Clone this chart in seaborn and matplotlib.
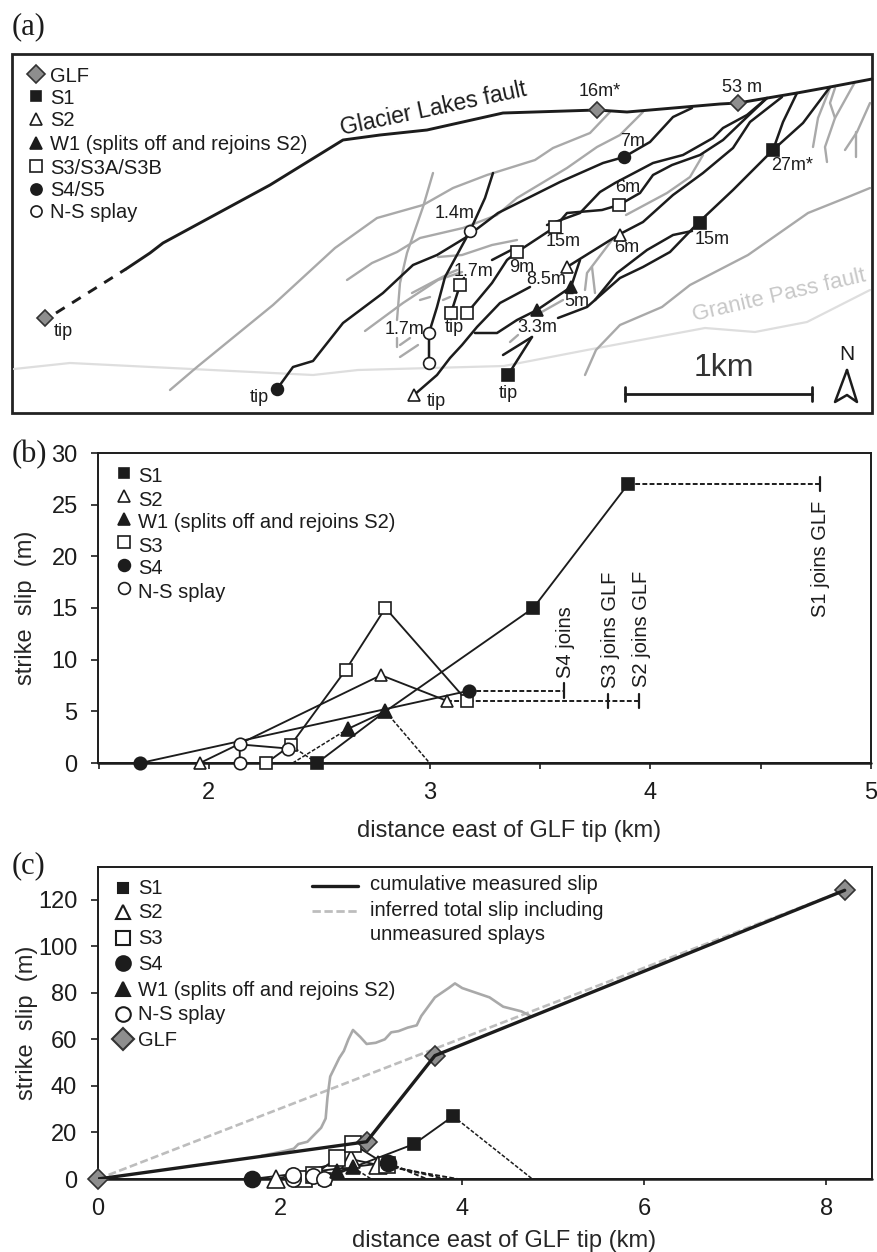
import matplotlib
matplotlib.use('Agg')
import matplotlib.pyplot as plt
import seaborn as sns

# ---------- panel (a), map traces in picture pixels ----------
glf_trace = [(126, 269), (150, 253), (163, 243), (270, 185), (343, 140), (380, 135), (427, 130), (503, 113),
             (597, 110), (627, 112), (720, 104), (738, 103), (797, 93), (830, 87), (872, 79)]
glf_dash = [(56, 313), (126, 269)]
black_faults = [
    [(277, 389), (293, 367), (313, 361), (343, 323), (383, 293), (413, 265), (437, 255), (465, 238), (498, 213),
     (520, 202), (560, 182), (603, 163), (624, 157), (650, 142), (673, 117), (692, 108)],
    [(429, 363), (429, 333), (437, 307), (445, 277), (470, 231), (485, 198), (493, 173)],
    [(414, 395), (437, 375), (450, 358), (462, 345), (477, 327), (500, 303), (530, 287)],
    [(475, 333), (497, 333), (517, 320), (537, 310), (571, 287), (580, 260)],
    [(567, 267), (620, 234), (643, 222), (673, 195), (703, 173), (733, 148), (750, 122), (782, 97)],
    [(558, 318), (587, 307), (595, 300)],
    [(595, 300), (617, 273), (647, 250), (673, 235), (692, 231)],
    [(595, 300), (620, 278), (643, 267), (670, 252), (698, 223)],
    [(698, 223), (733, 190), (773, 150), (783, 122), (797, 93)],
    [(773, 150), (803, 123), (830, 87)],
    [(467, 313), (492, 283), (507, 260), (517, 252), (555, 227), (567, 213), (602, 210), (619, 205), (640, 193),
     (653, 175), (672, 165), (700, 155), (723, 140), (747, 117), (767, 98)],
    [(547, 225), (580, 213), (600, 192), (615, 183), (653, 163), (683, 155), (713, 138), (723, 128), (747, 115), (767, 98)],
    [(451, 313), (460, 285), (464, 278)],
    [(492, 260), (517, 247)],
    [(508, 375), (532, 337)],
    [(503, 355), (532, 337)],
]
gray_faults = [
    [(170, 390), (197, 367), (273, 305), (335, 248), (377, 218), (423, 205), (453, 188), (487, 175), (535, 160),
     (553, 148), (590, 133), (610, 112)],
    [(347, 280), (372, 263), (397, 252), (420, 238), (463, 228), (497, 215), (517, 198), (567, 168), (597, 147),
     (620, 135), (643, 112)],
    [(433, 173), (423, 207), (407, 253), (400, 283), (397, 320)],
    [(365, 331), (403, 303), (438, 280), (462, 272)],
    [(438, 257), (462, 255), (492, 245), (517, 240)],
    [(412, 293), (450, 273), (457, 270)],
    [(397, 338), (397, 347)], [(400, 345), (410, 338)], [(400, 357), (418, 345)],
    [(420, 300), (430, 297)], [(443, 300), (450, 297)],
    [(510, 342), (518, 335)], [(540, 313), (563, 300)],
    [(585, 290), (587, 273), (612, 240)], [(592, 267), (595, 293)],
    [(626, 215), (667, 193), (690, 177), (703, 155)],
    [(813, 147), (818, 118), (830, 88)],
    [(827, 162), (825, 147), (835, 118), (830, 103), (835, 88)],
    [(835, 118), (855, 82)],
    [(845, 150), (857, 132), (870, 103)],
    [(856, 132), (856, 157)],
    [(585, 375), (596, 350), (620, 325), (662, 307), (690, 285), (748, 255), (808, 213), (848, 197), (870, 188)],
]
granite_trace = [(14, 369), (70, 363), (313, 375), (358, 370), (504, 366), (587, 350), (705, 328), (755, 332),
                 (807, 322), (870, 290)]
scale_bar = [(625, 394), (812, 394)]
north_arrow = [(847, 370), (835, 402), (847, 395), (857, 402), (847, 370)]

map_glf = [(45, 318), (597, 110), (738, 103)]
map_s1 = [(508, 375), (700, 223), (773, 150)]
map_s2 = [(414, 395), (567, 267), (620, 235)]
map_w1 = [(537, 310), (571, 287)]
map_s3 = [(451, 313), (467, 313), (460, 285), (517, 252), (555, 227), (619, 205)]
map_s4 = [(277, 389), (624, 157)]
map_ns = [(429, 363), (429, 333), (470, 231)]

map_labels = [('16m*', 600, 92), ('53 m', 742, 87), ('7m', 633, 141), ('27m*', 792, 165), ('6m', 628, 188),
              ('15m', 563, 242), ('9m', 522, 267), ('1.4m', 455, 213), ('1.7m', 474, 272), ('8.5m', 546, 280),
              ('6m', 627, 248), ('15m', 712, 240), ('5m', 577, 301), ('3.3m', 537, 327), ('1.7m', 405, 330),
              ('tip', 259, 397), ('tip', 436, 402), ('tip', 454, 328), ('tip', 508, 393), ('tip', 63, 331)]
legend_a = ['GLF', 'S1', 'S2', 'W1 (splits off and rejoins S2)', 'S3/S3A/S3B', 'S4/S5', 'N-S splay']

# ---------- panels (b) and (c), values ----------
s1_x, s1_y = [2.49, 2.8, 3.47, 3.9], [0, 5, 15, 27]
s2_x, s2_y = [1.96, 2.78, 3.08], [0, 8.5, 6]
w1_x, w1_y = [2.63, 2.8], [3.3, 5]
s3_x, s3_y = [2.26, 2.37, 2.62, 2.8, 3.17], [0, 1.7, 9, 15, 6]
s4_x, s4_y = [1.69, 3.18], [0, 7]
ns_x, ns_y = [2.14, 2.14, 2.36], [0, 1.8, 1.4]

s1_join, s2_join, s3_join, s4_join = 4.77, 3.95, 3.81, 3.61
w1_dash_x, w1_dash_y = [2.38, 2.63], [0, 3.3]
w1_tail_x, w1_tail_y = [2.8, 3.0], [5, 0]
s3_dash_x, s3_dash_y = [2.37, 2.49], [1.7, 0]

glf_x, glf_y = [0, 2.95, 3.7, 8.2], [0, 16, 53, 124]
total_x = [1.8, 2.05, 2.15, 2.2, 2.3, 2.35, 2.4, 2.45, 2.5, 2.52, 2.55, 2.65, 2.7, 2.75, 2.8, 2.88, 2.95, 3.05,
           3.15, 3.22, 3.3, 3.4, 3.5, 3.55, 3.7, 3.85, 3.92, 4.0, 4.15, 4.3, 4.45, 4.55, 4.65, 4.75]
total_y = [10, 12, 13, 15, 16, 18, 20, 22, 26, 35, 44, 52, 55, 60, 64, 61, 58, 58.5,
           60, 63, 63.5, 65, 66, 70, 78, 82, 84, 82, 80, 78, 74, 73, 72, 70]
ns_extra_x, ns_extra_y = [2.48], [0]

legend_b = ['S1', 'S2', 'W1 (splits off and rejoins S2)', 'S3', 'S4', 'N-S splay']
legend_c = ['S1', 'S2', 'S3', 'S4', 'W1 (splits off and rejoins S2)', 'N-S splay', 'GLF']

DARK = '#1c1c1c'
GRAY = '#a9a9a9'
styles = {
    'GLF': dict(marker='D', mfc='#8e8e8e', mec='#333333'),
    'S1': dict(marker='s', mfc=DARK, mec=DARK),
    'S2': dict(marker='^', mfc='white', mec=DARK),
    'W1': dict(marker='^', mfc=DARK, mec=DARK),
    'S3': dict(marker='s', mfc='white', mec=DARK),
    'S4': dict(marker='o', mfc=DARK, mec=DARK),
    'NS': dict(marker='o', mfc='white', mec=DARK),
}

sns.set_style('ticks')
plt.rcParams['font.family'] = ['Liberation Sans', 'DejaVu Sans']
plt.rcParams['axes.edgecolor'] = DARK
plt.rcParams['xtick.color'] = DARK
plt.rcParams['ytick.color'] = DARK
plt.rcParams['text.color'] = DARK

W, H = 878, 1252
fig = plt.figure(figsize=(W / 100, H / 100), dpi=100)


def add_panel(left, top, right, bottom):
    return fig.add_axes([left / W, 1 - bottom / H, (right - left) / W, (bottom - top) / H])


def trace(ax, pts, color=DARK, lw=1.6, **kw):
    sns.lineplot(x=[p[0] for p in pts], y=[p[1] for p in pts], ax=ax, color=color, linewidth=lw,
                 sort=False, estimator=None, errorbar=None, legend=False, **kw)


def dots(ax, xs, ys, key, size=8, mew=1.2):
    st = styles[key]
    sns.lineplot(x=xs, y=ys, ax=ax, color=DARK, linewidth=0, marker=st['marker'], markersize=size,
                 markerfacecolor=st['mfc'], markeredgecolor=st['mec'], markeredgewidth=mew,
                 sort=False, estimator=None, errorbar=None, legend=False, clip_on=False, zorder=5)


def solid(ax, xs, ys, lw=1.35):
    sns.lineplot(x=xs, y=ys, ax=ax, color=DARK, linewidth=lw, sort=False, estimator=None, errorbar=None,
                 legend=False, clip_on=False, zorder=4)


def dash(ax, xs, ys, lw=1.1):
    sns.lineplot(x=xs, y=ys, ax=ax, color=DARK, linewidth=lw, linestyle=(0, (2.5, 1.2)),
                 sort=False, estimator=None, errorbar=None, legend=False, clip_on=False, zorder=3)


# full-figure layer in pixel coordinates, used for the map and for the key texts
ov = fig.add_axes([0, 0, 1, 1], zorder=10)
ov.patch.set_alpha(0)
ov.axis('off')

# (a)
trace(ov, granite_trace, color='#dedede', lw=1.6)
for g in gray_faults:
    trace(ov, g, color=GRAY, lw=1.7)
trace(ov, glf_trace, lw=2.1)
trace(ov, glf_dash, lw=2.1, linestyle=(0, (3.5, 3)))
for f in black_faults:
    trace(ov, f, lw=1.8)
for pts, key in [(map_glf, 'GLF'), (map_s1, 'S1'), (map_s2, 'S2'), (map_w1, 'W1'), (map_s3, 'S3'), (map_s4, 'S4'),
                 (map_ns, 'NS')]:
    dots(ov, [p[0] for p in pts], [p[1] for p in pts], key, size=8.5)
for txt, x, y in map_labels:
    ov.text(x, y, txt, fontsize=13, ha='center', va='center')
ov.text(433, 109, 'Glacier Lakes fault', fontsize=16.5, rotation=12, ha='center', va='center')
ov.text(779, 296, 'Granite Pass fault', fontsize=16, rotation=13, ha='center', va='center', color='#c8c8c8')
trace(ov, scale_bar, lw=2.0)
trace(ov, [(625, 387), (625, 401)], lw=2.0)
trace(ov, [(812, 387), (812, 401)], lw=2.0)
ov.text(724, 368, '1km', fontsize=23, ha='center', va='center', color='#333333')
ov.text(847, 355, 'N', fontsize=15, ha='center', va='center')
trace(ov, north_arrow, lw=1.8)
ov.text(12, 27, '(a)', fontsize=22, family='Liberation Serif', ha='left', va='center')
ov.text(12, 455, '(b)', fontsize=22, family='Liberation Serif', ha='left', va='center')
ov.text(12, 866, '(c)', fontsize=22, family='Liberation Serif', ha='left', va='center')

ov.add_patch(plt.Rectangle((12, 54), 860, 359, fill=False, edgecolor='#222222', linewidth=2.0))
for lab, key, y in zip(legend_a, ['GLF', 'S1', 'S2', 'W1', 'S3', 'S4', 'NS'], [75, 97, 120, 144, 167, 190, 212]):
    ov.text(50, y + 1, lab, fontsize=14.5, ha='left', va='center')
    dots(ov, [36], [y - 1], key, size={'GLF': 9, 'S1': 7}.get(key, 8))

# (b)
ax_b = add_panel(98.5, 453, 871, 763)
dash(ax_b, s3_dash_x, s3_dash_y)
dash(ax_b, w1_dash_x, w1_dash_y)
dash(ax_b, w1_tail_x, w1_tail_y)
dash(ax_b, [s1_x[-1], s1_join], [27, 27], lw=1.4)
dash(ax_b, [s2_x[-1], s2_join], [6, 6], lw=1.4)
dash(ax_b, [s4_x[-1], s4_join], [7, 7], lw=1.4)
for jx, jy in [(s1_join, 27), (s2_join, 6), (s3_join, 6), (s4_join, 7)]:
    sns.lineplot(x=[jx, jx], y=[jy - 0.7, jy + 0.7], ax=ax_b, color=DARK, linewidth=1.6, sort=False,
                 estimator=None, errorbar=None, legend=False)
for xs, ys in [(s1_x, s1_y), (s2_x, s2_y), (s3_x, s3_y), (s4_x, s4_y), (ns_x, ns_y), (w1_x, w1_y)]:
    solid(ax_b, xs, ys)
dots(ax_b, s1_x[:1] + s1_x[2:], s1_y[:1] + s1_y[2:], 'S1', size=9)
dots(ax_b, s2_x, s2_y, 'S2', size=9)
dots(ax_b, s3_x, s3_y, 'S3', size=9)
dots(ax_b, s4_x, s4_y, 'S4', size=9)
dots(ax_b, ns_x, ns_y, 'NS', size=9)
dots(ax_b, w1_x, w1_y, 'W1', size=9.5)
ax_b.set_xlim(1.5, 5)
ax_b.set_ylim(0, 30)
ax_b.set_xticks([1.5, 2, 2.5, 3, 3.5, 4, 4.5, 5], ['', '2', '', '3', '', '4', '', '5'])
ax_b.set_yticks([0, 5, 10, 15, 20, 25, 30])
ax_b.set_xlabel('distance east of GLF tip (km)', fontsize=17)
ax_b.set_ylabel('strike  slip  (m)', fontsize=17)
ax_b.xaxis.set_label_coords(0.532, -0.185)
ax_b.yaxis.set_label_coords(-0.079, 0.5)
ax_b.axhline(0, color=DARK, lw=1.8, clip_on=False)
for lab, x, y0 in [('S4 joins', 566, 678), ('S3 joins GLF', 611, 688), ('S2 joins GLF', 642, 687),
                   ('S1 joins GLF', 821, 617)]:
    ov.text(x, y0, lab, fontsize=14.5, rotation=90, ha='center', va='bottom')
for lab, key, y in zip(legend_b, ['S1', 'S2', 'W1', 'S3', 'S4', 'NS'], [477, 500, 523, 546, 569, 592]):
    ov.text(138, y, lab, fontsize=14.5, ha='left', va='center')
    dots(ov, [124], [y - 4], key, size=8.5 if key != 'S1' else 6.5)

# (c)
ax_c = add_panel(98, 867, 872, 1179)
dash(ax_c, [s1_x[-1], s1_join], [27, 0])
dash(ax_c, [s2_x[-1], s2_join], [6, 0], lw=1.4)
dash(ax_c, [s3_x[-1], s3_join], [6, 0], lw=1.4)
dash(ax_c, [s4_x[-1], s4_join], [7, 0], lw=1.4)
dash(ax_c, w1_tail_x, w1_tail_y)
sns.lineplot(x=[0, glf_x[-1]], y=[0, glf_y[-1]], ax=ax_c, color='#bdbdbd', linewidth=1.9,
             linestyle=(0, (3, 1.3)), sort=False, estimator=None, errorbar=None, legend=False)
sns.lineplot(x=total_x, y=total_y, ax=ax_c, color=GRAY, linewidth=1.9, sort=False, estimator=None,
             errorbar=None, legend=False)
for xs, ys in [(s1_x, s1_y), (s2_x, s2_y), (s3_x, s3_y), (s4_x, s4_y), (ns_x, ns_y), (w1_x, w1_y)]:
    solid(ax_c, xs, ys)
dots(ax_c, s1_x[:1] + s1_x[2:], s1_y[:1] + s1_y[2:], 'S1', size=8)
dots(ax_c, s2_x, s2_y, 'S2', size=13)
dots(ax_c, s3_x, s3_y, 'S3', size=11.5)
dots(ax_c, s4_x, s4_y, 'S4', size=11.5)
dots(ax_c, ns_x, ns_y, 'NS', size=11)
dots(ax_c, ns_extra_x, ns_extra_y, 'NS', size=11)
dots(ax_c, w1_x, w1_y, 'W1', size=10)
sns.lineplot(x=glf_x, y=glf_y, ax=ax_c, color=DARK, linewidth=2.4, sort=False, estimator=None, errorbar=None,
             legend=False, zorder=6)
dots(ax_c, glf_x, glf_y, 'GLF', size=10.5)
ax_c.set_xlim(0, 8.5)
ax_c.set_ylim(0, 134)
ax_c.set_xticks([0, 2, 4, 6, 8])
ax_c.set_yticks([0, 20, 40, 60, 80, 100, 120])
ax_c.set_xlabel('distance east of GLF tip (km)', fontsize=17)
ax_c.set_ylabel('strike  slip  (m)', fontsize=17)
ax_c.xaxis.set_label_coords(0.525, -0.163)
ax_c.yaxis.set_label_coords(-0.078, 0.5)
ax_c.axhline(0, color=DARK, lw=1.8, clip_on=False)
for lab, key, y in zip(legend_c, ['S1', 'S2', 'S3', 'S4', 'W1', 'NS', 'GLF'], [889, 913, 939, 964, 990, 1015, 1040]):
    ov.text(138, y, lab, fontsize=14.5, ha='left', va='center')
    dots(ov, [123], [y - 1], key, size={'S1': 7, 'GLF': 11}.get(key, 10.5), mew=1.5)
trace(ov, [(312, 886), (358, 886)], lw=2.4)
trace(ov, [(312, 911), (358, 911)], color='#bdbdbd', lw=2.0, linestyle=(0, (3, 1.3)))
for lab, y in [('cumulative measured slip', 885), ('inferred total slip including', 910), ('unmeasured splays', 935)]:
    ov.text(370, y, lab, fontsize=14.5, ha='left', va='center')

for ax in [ax_b, ax_c]:
    for sp in ax.spines.values():
        sp.set_linewidth(1.4)
    ax.tick_params(axis='both', labelsize=17, length=5, width=1.2)
    ax.tick_params(axis='y', pad=10)
    ax.tick_params(axis='x', pad=10, length=4)

ov.set_xlim(0, W)
ov.set_ylim(H, 0)
ov.axis('off')
fig.savefig('out.png', dpi=100)
